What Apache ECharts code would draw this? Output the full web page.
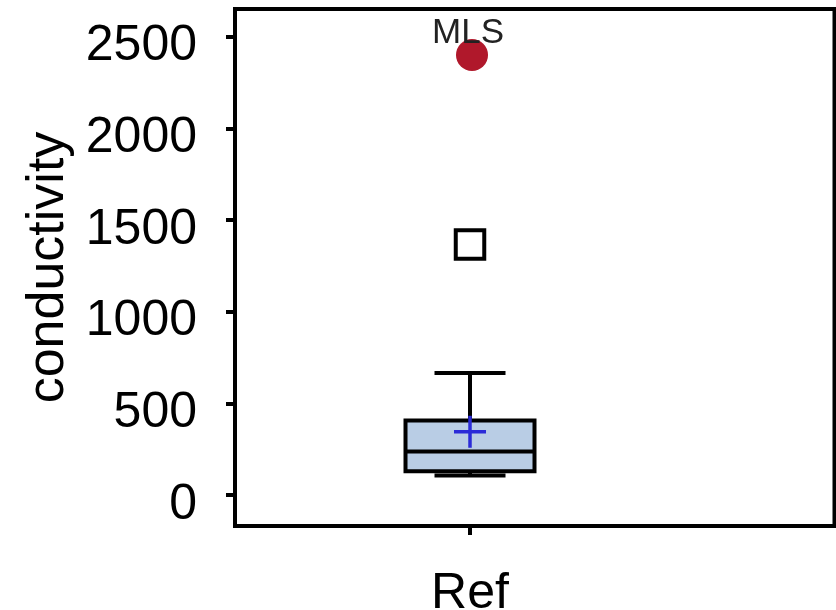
<!DOCTYPE html>
<html>
<head>
<meta charset="utf-8">
<script src="https://cdn.jsdelivr.net/npm/echarts@6/dist/echarts.min.js"></script>
<style>
  html, body { margin: 0; padding: 0; background: #fff; }
  #chart { width: 836px; height: 610px; }
</style>
</head>
<body>
<div id="chart"></div>
<script>
// Groups along the x axis
const categories = ['Ref'];
// Box summary per group: lower whisker, Q1, median, Q3, upper whisker
const boxLow = [106];
const boxQ1 = [129];
const boxMedian = [238];
const boxQ3 = [406];
const boxHigh = [665];
const groupMean = [345];
// Points beyond the whiskers
const outlierValues = [1367];
// Highlighted site
const flaggedNames = ['MLS'];
const flaggedValues = [2400];
// Y axis tick values
const yTicks = [0, 500, 1000, 1500, 2000, 2500];

const FONT = '"Liberation Sans", Arial, sans-serif';
const groupPos = categories.map((_, i) => i + 1);

const boxData = categories.map((_, i) => [
  groupPos[i], boxLow[i], boxQ1[i], boxMedian[i], boxQ3[i], boxHigh[i], groupMean[i]
]);
const outlierData = outlierValues.map(v => [groupPos[0], v]);
const flaggedData = flaggedValues.map((v, i) => ({ name: flaggedNames[i], value: [groupPos[0], v] }));

const chart = echarts.init(document.getElementById('chart'), null, { renderer: 'canvas' });

const strokeW = 4;

chart.setOption({
  animation: false,
  backgroundColor: '#fff',
  grid: {
    show: true,
    left: 235, right: 1.5, top: 9, bottom: 84,
    borderColor: '#000',
    borderWidth: strokeW,
    backgroundColor: 'transparent',
    containLabel: false,
    outerBoundsMode: 'none'
  },
  xAxis: {
    type: 'value',
    min: 0,
    max: 2.551,
    axisLine: { show: false, onZero: false },
    splitLine: { show: false },
    axisTick: {
      show: true, customValues: groupPos, length: 9,
      lineStyle: { color: '#000', width: strokeW }
    },
    axisLabel: {
      show: true, customValues: groupPos,
      formatter: v => categories[Math.round(v) - 1] || '',
      fontSize: 50, fontFamily: FONT, color: '#000', margin: 43
    }
  },
  yAxis: {
    type: 'value',
    min: -169,
    max: 2651,
    axisLine: { show: false, onZero: false },
    splitLine: { show: false },
    axisTick: {
      show: true, customValues: yTicks, length: 9,
      lineStyle: { color: '#000', width: strokeW }
    },
    axisLabel: {
      show: true, customValues: yTicks,
      formatter: v => '{t|' + v + '}',
      margin: 38,
      rich: {
        t: { fontSize: 50, fontFamily: FONT, color: '#000', padding: [20, 0, 0, 0] }
      }
    },
    name: 'conductivity',
    nameLocation: 'middle',
    nameGap: 139,
    nameTextStyle: { fontSize: 52, fontFamily: FONT, color: '#000' }
  },
  series: [
    {
      type: 'custom',
      data: boxData,
      encode: { x: 0, y: [1, 2, 3, 4, 5, 6] },
      silent: true,
      renderItem(params, api) {
        const x = api.value(0);
        const lo = api.coord([x, api.value(1)]);
        const q1 = api.coord([x, api.value(2)]);
        const md = api.coord([x, api.value(3)]);
        const q3 = api.coord([x, api.value(4)]);
        const hi = api.coord([x, api.value(5)]);
        const mn = api.coord([x, api.value(6)]);
        const cx = lo[0];
        const hw = 64.5, cap = 35.5, cr = 16;
        const line = { stroke: '#000', lineWidth: strokeW };
        const meanLine = { stroke: '#2b2bd8', lineWidth: 3.5 };
        return {
          type: 'group',
          children: [
            { type: 'line', shape: { x1: cx, y1: q3[1], x2: cx, y2: hi[1] }, style: line },
            { type: 'line', shape: { x1: cx, y1: q1[1], x2: cx, y2: lo[1] }, style: line },
            { type: 'line', shape: { x1: cx - cap, y1: hi[1], x2: cx + cap, y2: hi[1] }, style: line },
            { type: 'line', shape: { x1: cx - cap, y1: lo[1], x2: cx + cap, y2: lo[1] }, style: line },
            { type: 'rect', shape: { x: cx - hw, y: q3[1], width: 2 * hw, height: q1[1] - q3[1] },
              style: { fill: '#b9cde5', stroke: '#000', lineWidth: strokeW } },
            { type: 'line', shape: { x1: cx - hw, y1: md[1], x2: cx + hw, y2: md[1] }, style: line },
            { type: 'line', shape: { x1: cx - cr, y1: mn[1], x2: cx + cr, y2: mn[1] }, style: meanLine },
            { type: 'line', shape: { x1: cx, y1: mn[1] - cr, x2: cx, y2: mn[1] + cr }, style: meanLine }
          ]
        };
      }
    },
    {
      type: 'scatter',
      data: outlierData,
      symbol: 'rect',
      symbolSize: 28.5,
      silent: true,
      itemStyle: { color: '#fff', borderColor: '#000', borderWidth: strokeW, opacity: 1 }
    },
    {
      type: 'scatter',
      data: flaggedData,
      symbol: 'circle',
      symbolSize: 32,
      symbolOffset: [2, 0],
      silent: true,
      itemStyle: { color: '#b0182b', opacity: 1 },
      label: {
        show: true,
        formatter: '{b}',
        position: 'inside',
        offset: [-4, -22],
        fontSize: 35,
        fontFamily: FONT,
        color: '#222',
        opacity: 1
      }
    }
  ]
});
</script>
</body>
</html>
